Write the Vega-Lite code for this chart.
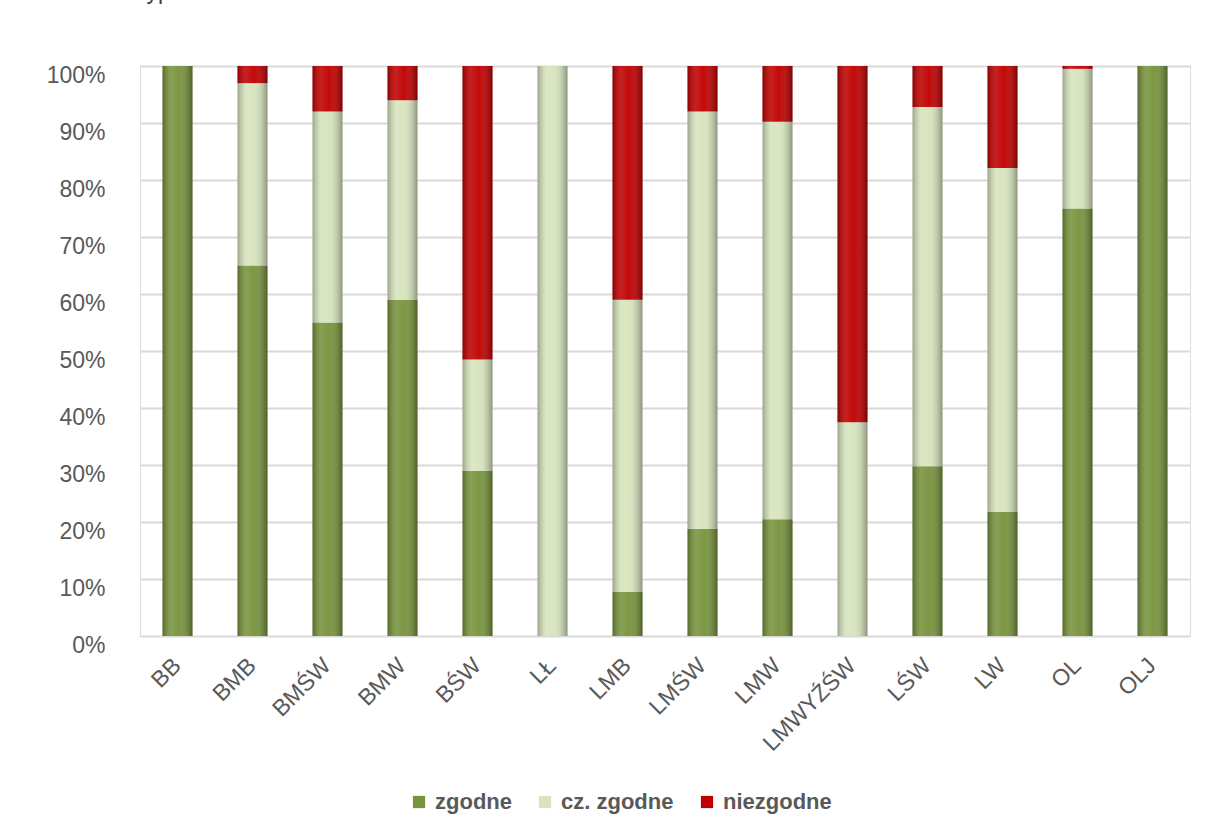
{
  "$schema": "https://vega.github.io/schema/vega-lite/v6.json",
  "width": 1050,
  "height": 570,
  "autosize": {"type": "none"},
  "padding": {"left": 140, "top": 66, "right": 23, "bottom": 193},
  "background": "white",
  "title": {
    "text": "typem drzewostanu",
    "anchor": "start",
    "frame": "group",
    "orient": "top",
    "offset": 42,
    "baseline": "alphabetic",
    "font": "Liberation Sans",
    "fontSize": 23,
    "fontWeight": "normal",
    "color": "#404040"
  },
  "data": {
    "values": [
      {"typ": "BB", "kategoria": "zgodne", "kolejnosc": 1, "udzial": 100},
      {"typ": "BB", "kategoria": "cz. zgodne", "kolejnosc": 2, "udzial": 0},
      {"typ": "BB", "kategoria": "niezgodne", "kolejnosc": 3, "udzial": 0},
      {"typ": "BMB", "kategoria": "zgodne", "kolejnosc": 1, "udzial": 65},
      {"typ": "BMB", "kategoria": "cz. zgodne", "kolejnosc": 2, "udzial": 32},
      {"typ": "BMB", "kategoria": "niezgodne", "kolejnosc": 3, "udzial": 3},
      {"typ": "BMŚW", "kategoria": "zgodne", "kolejnosc": 1, "udzial": 55},
      {"typ": "BMŚW", "kategoria": "cz. zgodne", "kolejnosc": 2, "udzial": 37},
      {"typ": "BMŚW", "kategoria": "niezgodne", "kolejnosc": 3, "udzial": 8},
      {"typ": "BMW", "kategoria": "zgodne", "kolejnosc": 1, "udzial": 59},
      {"typ": "BMW", "kategoria": "cz. zgodne", "kolejnosc": 2, "udzial": 35},
      {"typ": "BMW", "kategoria": "niezgodne", "kolejnosc": 3, "udzial": 6},
      {"typ": "BŚW", "kategoria": "zgodne", "kolejnosc": 1, "udzial": 29},
      {"typ": "BŚW", "kategoria": "cz. zgodne", "kolejnosc": 2, "udzial": 19.5},
      {"typ": "BŚW", "kategoria": "niezgodne", "kolejnosc": 3, "udzial": 51.5},
      {"typ": "LŁ", "kategoria": "zgodne", "kolejnosc": 1, "udzial": 0},
      {"typ": "LŁ", "kategoria": "cz. zgodne", "kolejnosc": 2, "udzial": 100},
      {"typ": "LŁ", "kategoria": "niezgodne", "kolejnosc": 3, "udzial": 0},
      {"typ": "LMB", "kategoria": "zgodne", "kolejnosc": 1, "udzial": 7.7},
      {"typ": "LMB", "kategoria": "cz. zgodne", "kolejnosc": 2, "udzial": 51.3},
      {"typ": "LMB", "kategoria": "niezgodne", "kolejnosc": 3, "udzial": 41},
      {"typ": "LMŚW", "kategoria": "zgodne", "kolejnosc": 1, "udzial": 18.8},
      {"typ": "LMŚW", "kategoria": "cz. zgodne", "kolejnosc": 2, "udzial": 73.2},
      {"typ": "LMŚW", "kategoria": "niezgodne", "kolejnosc": 3, "udzial": 8},
      {"typ": "LMW", "kategoria": "zgodne", "kolejnosc": 1, "udzial": 20.5},
      {"typ": "LMW", "kategoria": "cz. zgodne", "kolejnosc": 2, "udzial": 69.7},
      {"typ": "LMW", "kategoria": "niezgodne", "kolejnosc": 3, "udzial": 9.8},
      {"typ": "LMWYŹŚW", "kategoria": "zgodne", "kolejnosc": 1, "udzial": 0},
      {"typ": "LMWYŹŚW", "kategoria": "cz. zgodne", "kolejnosc": 2, "udzial": 37.5},
      {"typ": "LMWYŹŚW", "kategoria": "niezgodne", "kolejnosc": 3, "udzial": 62.5},
      {"typ": "LŚW", "kategoria": "zgodne", "kolejnosc": 1, "udzial": 29.8},
      {"typ": "LŚW", "kategoria": "cz. zgodne", "kolejnosc": 2, "udzial": 63},
      {"typ": "LŚW", "kategoria": "niezgodne", "kolejnosc": 3, "udzial": 7.2},
      {"typ": "LW", "kategoria": "zgodne", "kolejnosc": 1, "udzial": 21.8},
      {"typ": "LW", "kategoria": "cz. zgodne", "kolejnosc": 2, "udzial": 60.3},
      {"typ": "LW", "kategoria": "niezgodne", "kolejnosc": 3, "udzial": 17.9},
      {"typ": "OL", "kategoria": "zgodne", "kolejnosc": 1, "udzial": 75},
      {"typ": "OL", "kategoria": "cz. zgodne", "kolejnosc": 2, "udzial": 24.5},
      {"typ": "OL", "kategoria": "niezgodne", "kolejnosc": 3, "udzial": 0.5},
      {"typ": "OLJ", "kategoria": "zgodne", "kolejnosc": 1, "udzial": 100},
      {"typ": "OLJ", "kategoria": "cz. zgodne", "kolejnosc": 2, "udzial": 0},
      {"typ": "OLJ", "kategoria": "niezgodne", "kolejnosc": 3, "udzial": 0}
    ]
  },
  "encoding": {
    "x": {
      "field": "typ",
      "type": "nominal",
      "sort": null,
      "scale": {"paddingInner": 0.6, "paddingOuter": 0.3},
      "axis": {
        "title": null,
        "labelAngle": -45,
        "labelFont": "Liberation Sans",
        "labelFontSize": 23,
        "labelColor": "#595959",
        "labelPadding": 18,
        "labelOffset": -8,
        "ticks": false,
        "domain": false,
        "grid": false
      }
    },
    "y": {
      "field": "udzial",
      "type": "quantitative",
      "stack": "normalize",
      "scale": {"domain": [0, 1], "nice": false},
      "axis": {
        "title": null,
        "format": ".0%",
        "values": [0, 0.1, 0.2, 0.3, 0.4, 0.5, 0.6, 0.7, 0.8, 0.9, 1],
        "labelFont": "Liberation Sans",
        "labelFontSize": 23,
        "labelColor": "#595959",
        "labelPadding": 35,
        "labelOffset": 9,
        "ticks": false,
        "domain": false,
        "grid": true,
        "gridColor": "#d9d9d9",
        "gridWidth": 2
      }
    },
    "order": {"field": "kolejnosc", "type": "quantitative", "sort": "ascending"}
  },
  "layer": [
    {
      "mark": {"type": "bar"},
      "encoding": {
        "color": {
          "field": "kategoria",
          "type": "nominal",
          "scale": {
            "domain": ["zgodne", "cz. zgodne", "niezgodne"],
            "range": ["#77933C", "#D7E4BD", "#C00000"]
          },
          "legend": {
            "title": null,
            "orient": "none",
            "direction": "horizontal",
            "legendX": 268,
            "legendY": 725,
            "symbolType": "square",
            "symbolSize": 150,
            "symbolStrokeWidth": 0,
            "labelFont": "Liberation Sans",
            "labelFontSize": 22,
            "labelFontWeight": "bold",
            "labelColor": "#595959",
            "labelOffset": 5,
            "columnPadding": 22
          }
        }
      }
    },
    {
      "mark": {
        "type": "bar",
        "fill": {
          "gradient": "linear",
          "x1": 0, "x2": 1, "y1": 0, "y2": 0,
          "stops": [
            {"offset": 0, "color": "rgba(0,0,0,0.28)"},
            {"offset": 0.3, "color": "rgba(255,255,255,0.12)"},
            {"offset": 0.55, "color": "rgba(255,255,255,0.04)"},
            {"offset": 1, "color": "rgba(0,0,0,0.35)"}
          ]
        }
      },
      "encoding": {
        "detail": {"field": "kategoria", "type": "nominal"}
      }
    }
  ]
}
